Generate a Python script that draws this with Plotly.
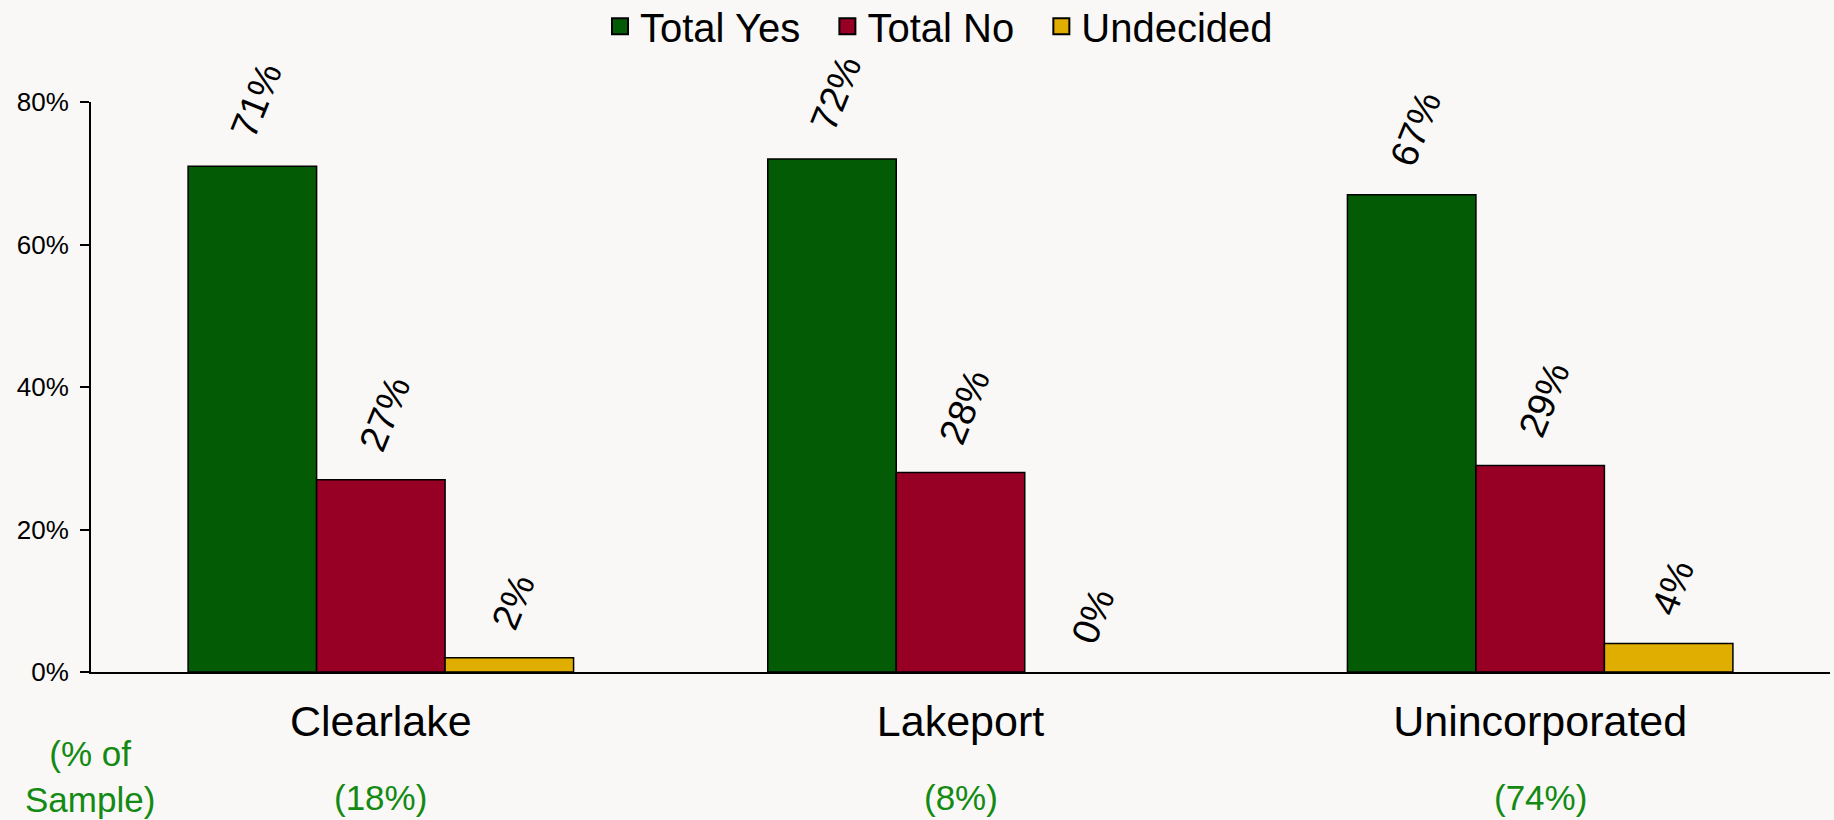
import plotly.graph_objects as go

categorias = ["Clearlake", "Lakeport", "Unincorporated"]
total_yes = [71, 72, 67]
total_no = [27, 28, 29]
undecided = [2, 0, 4]
pct_amostra = ["(18%)", "(8%)", "(74%)"]
y_ticks = [0, 20, 40, 60, 80]
y_ticktext = ["0%", "20%", "40%", "60%", "80%"]

series = [
    ("Total Yes", total_yes, "#035B05"),
    ("Total No", total_no, "#970024"),
    ("Undecided", undecided, "#E0AE00"),
]

fonte = "Liberation Sans, Arial, sans-serif"
verde_txt = "#138A13"
nbsp = "\u00a0"

fig = go.Figure()

for i, (nome, valores, cor) in enumerate(series):
    fig.add_trace(go.Bar(
        x=categorias,
        y=valores,
        name=nome,
        # sem contorno quando a barra é zero
        marker=dict(color=cor, line=dict(color="black",
                                         width=[1.5 if v > 0 else 0 for v in valores])),
        text=[nbsp * 2 + f"{v}%" for v in valores],
        textposition="outside",
        textangle=-68,
        textfont=dict(family=fonte, size=38, color="black"),
        cliponaxis=False,
        constraintext="none",
        showlegend=False,
    ))
    # legenda com quadrados maiores
    sufixo = nbsp * 2 if i < len(series) - 1 else ""
    fig.add_trace(go.Scatter(
        x=[None], y=[None], mode="markers", name=nome + sufixo,
        marker=dict(symbol="square", size=16, color=cor, line=dict(color="black", width=2)),
    ))

# % da amostra abaixo das categorias
for cat, txt in zip(categorias, pct_amostra):
    fig.add_annotation(x=cat, y=0, xref="x", yref="paper", yshift=-147,
                       text=txt, showarrow=False,
                       font=dict(family=fonte, size=35, color=verde_txt))
fig.add_annotation(x=0, y=0, xref="paper", yref="paper", xshift=-1, yshift=-149,
                   text="(% of<br>Sample)", showarrow=False, xanchor="center",
                   font=dict(family=fonte, size=35, color=verde_txt))

fig.update_layout(
    width=1834,
    height=820,
    font=dict(family=fonte, size=26, color="black"),
    paper_bgcolor="#F9F8F6",
    plot_bgcolor="#F9F8F6",
    barmode="group",
    bargap=0.335,
    bargroupgap=0,
    margin=dict(l=91, r=4, t=102, b=148),
    legend=dict(orientation="h", xref="container", x=0.512, xanchor="center",
                yref="container", y=0.968, yanchor="middle",
                font=dict(family=fonte, size=40), itemwidth=30,
                bgcolor="rgba(0,0,0,0)"),
    xaxis=dict(showgrid=False, zeroline=False, showline=True, linecolor="black",
               linewidth=2, ticks="", tickfont=dict(size=43), ticklabelstandoff=10),
    yaxis=dict(range=[0, 80], tickvals=y_ticks, ticktext=y_ticktext, showgrid=False,
               zeroline=False, showline=True, linecolor="black", linewidth=2,
               ticks="outside", ticklen=9, tickwidth=2, tickcolor="black",
               tickfont=dict(size=26), ticklabelstandoff=6),
)

fig.write_html("out.html", config={"displayModeBar": False},
               post_script="document.body.style.margin='0';")
